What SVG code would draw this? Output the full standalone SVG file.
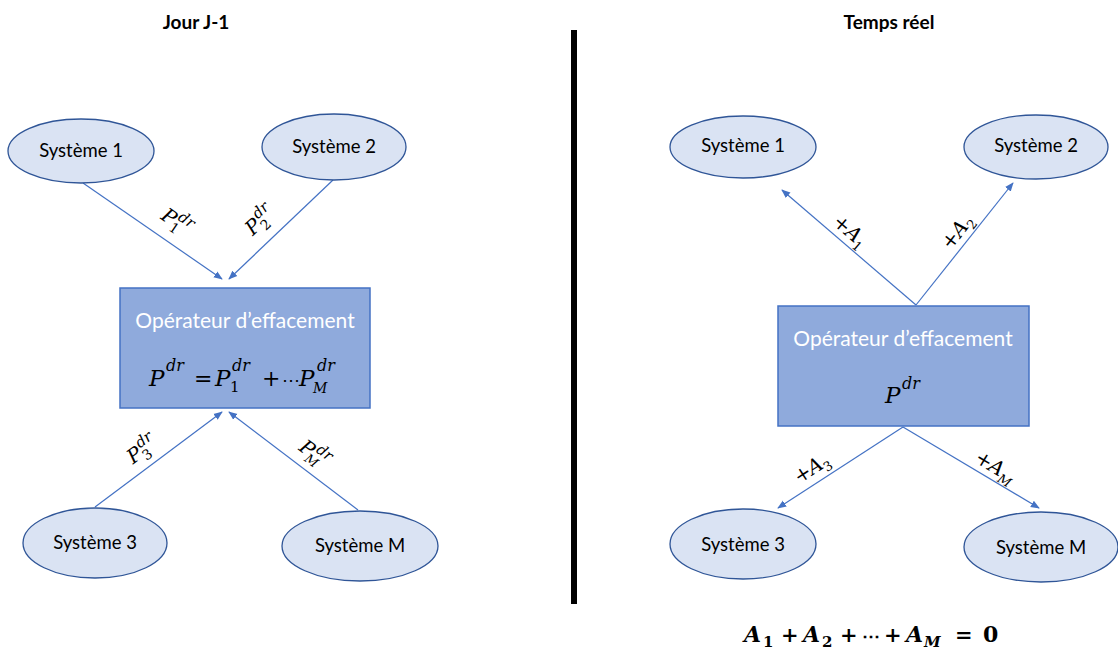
<svg xmlns="http://www.w3.org/2000/svg" width="1118" height="651" viewBox="0 0 1118 651">
<defs>
<style>
.ell{fill:#dae3f3;stroke:#2f5597;stroke-width:1.3}
.box{fill:#8faadc;stroke:#4472c4;stroke-width:1.5}
.lbl{font-family:Lato,"Liberation Sans",sans-serif;font-size:18.5px;fill:#000;text-anchor:middle}
.op{font-family:Lato,"Liberation Sans",sans-serif;font-size:21px;fill:#fff;text-anchor:middle}
.title{font-family:Lato,"Liberation Sans",sans-serif;font-size:19px;font-weight:bold;fill:#000;text-anchor:middle}
.m{font-family:"DejaVu Serif","Liberation Serif",serif;fill:#000}
.mi{font-style:italic}
.con{stroke:#4472c4;stroke-width:1.2;fill:none;marker-end:url(#ah)}
</style>
<marker id="ah" viewBox="0 0 10 10" refX="9" refY="5" markerWidth="9" markerHeight="9" markerUnits="userSpaceOnUse" orient="auto">
<path d="M0,1 L10,5 L0,9 Z" fill="#4472c4"/>
</marker>
</defs>
<rect width="1118" height="651" fill="#fff"/>
<text class="title" x="196" y="29">Jour J-1</text>
<text class="title" x="889" y="29">Temps réel</text>
<rect id="divider" x="571" y="30" width="6" height="574" fill="#000"/>
<g id="connectors">
<line class="con" x1="83" y1="183" x2="222" y2="279"/>
<line class="con" x1="333" y1="180" x2="229" y2="279"/>
<line class="con" x1="95" y1="507" x2="222" y2="412"/>
<line class="con" x1="358" y1="510" x2="229" y2="412"/>
<line class="con" x1="916" y1="305" x2="782" y2="190"/>
<line class="con" x1="916" y1="305" x2="1013" y2="183"/>
<line class="con" x1="903" y1="427" x2="778" y2="508"/>
<line class="con" x1="903" y1="427" x2="1039" y2="508"/>
<g class="m">
<g transform="translate(176,221) rotate(34)"><text x="-15" y="7" font-size="20" class="mi">P</text><text x="0" y="-2" font-size="15" class="mi">dr</text><text x="-2" y="12" font-size="14">1</text></g>
<g transform="translate(259,221) rotate(-43)"><text x="-15" y="7" font-size="20" class="mi">P</text><text x="0" y="-2" font-size="15" class="mi">dr</text><text x="-2" y="12" font-size="14">2</text></g>
<g transform="translate(141,450) rotate(-36)"><text x="-15" y="7" font-size="20" class="mi">P</text><text x="0" y="-2" font-size="15" class="mi">dr</text><text x="-2" y="12" font-size="14">3</text></g>
<g transform="translate(314,453) rotate(37)"><text x="-15" y="7" font-size="20" class="mi">P</text><text x="0" y="-2" font-size="15" class="mi">dr</text><text x="-4" y="12" font-size="13" class="mi">M</text></g>
<g transform="translate(852,232) rotate(41)"><text x="-21" y="7" font-size="20">+</text><text x="-5" y="7" font-size="20" class="mi">A</text><text x="9" y="12" font-size="13">1</text></g>
<g transform="translate(958,230) rotate(-52)"><text x="-21" y="7" font-size="20">+</text><text x="-5" y="7" font-size="20" class="mi">A</text><text x="9" y="12" font-size="13">2</text></g>
<g transform="translate(813,467) rotate(-33)"><text x="-21" y="7" font-size="20">+</text><text x="-5" y="7" font-size="20" class="mi">A</text><text x="9" y="12" font-size="13">3</text></g>
<g transform="translate(995,466) rotate(31)"><text x="-21" y="7" font-size="20">+</text><text x="-5" y="7" font-size="20" class="mi">A</text><text x="9" y="12" font-size="13" class="mi">M</text></g>
</g>
</g>
<g id="L-sys1"><ellipse class="ell" cx="81" cy="151" rx="73" ry="32"/><text class="lbl" x="81" y="157">Système 1</text></g>
<g id="L-sys2"><ellipse class="ell" cx="334" cy="147" rx="72" ry="33"/><text class="lbl" x="334" y="153">Système 2</text></g>
<g id="L-sys3"><ellipse class="ell" cx="95" cy="543" rx="72" ry="35"/><text class="lbl" x="95" y="549">Système 3</text></g>
<g id="L-sysM"><ellipse class="ell" cx="360" cy="546" rx="78" ry="35"/><text class="lbl" x="360" y="552">Système M</text></g>
<g id="L-op">
<rect class="box" x="120" y="288" width="250" height="120"/>
<text class="op" x="245" y="328">Opérateur d’effacement</text>
<g class="m">
<text x="149" y="386" font-size="23" class="mi">P</text><text x="166" y="371" font-size="16" class="mi">dr</text>
<text x="194" y="386" font-size="22">=</text>
<text x="215" y="386" font-size="23" class="mi">P</text><text x="232" y="371" font-size="16" class="mi">dr</text><text x="230" y="392" font-size="15">1</text>
<text x="262" y="386" font-size="22">+</text>
<text x="282" y="386" font-size="18">⋯</text>
<text x="299" y="386" font-size="23" class="mi">P</text><text x="317" y="371" font-size="16" class="mi">dr</text><text x="313" y="393" font-size="14" class="mi">M</text>
</g>
</g>
<g id="R-sys1"><ellipse class="ell" cx="743" cy="147" rx="73" ry="31"/><text class="lbl" x="743" y="152">Système 1</text></g>
<g id="R-sys2"><ellipse class="ell" cx="1036" cy="147" rx="72" ry="32"/><text class="lbl" x="1036" y="152">Système 2</text></g>
<g id="R-sys3"><ellipse class="ell" cx="743" cy="544" rx="73" ry="35"/><text class="lbl" x="743" y="551">Système 3</text></g>
<g id="R-sysM"><ellipse class="ell" cx="1041" cy="547" rx="77" ry="35"/><text class="lbl" x="1041" y="554">Système M</text></g>
<g id="R-op">
<rect class="box" x="778" y="306" width="251" height="120"/>
<text class="op" x="903" y="346">Opérateur d’effacement</text>
<g class="m"><text x="885" y="403" font-size="23" class="mi">P</text><text x="902" y="389" font-size="16" class="mi">dr</text></g>
</g>
<g id="sum" class="m" font-weight="bold">
<text x="744" y="642" font-size="22" class="mi">A</text><text x="763" y="647" font-size="15">1</text>
<text x="781" y="642" font-size="21">+</text>
<text x="803" y="642" font-size="22" class="mi">A</text><text x="822" y="647" font-size="15">2</text>
<text x="840" y="642" font-size="21">+</text>
<text x="862" y="642" font-size="18">⋯</text>
<text x="884" y="642" font-size="21">+</text>
<text x="906" y="642" font-size="22" class="mi">A</text><text x="924" y="647" font-size="15" class="mi">M</text>
<text x="955" y="642" font-size="21">=</text>
<text x="983" y="642" font-size="22">0</text>
</g>
</svg>
